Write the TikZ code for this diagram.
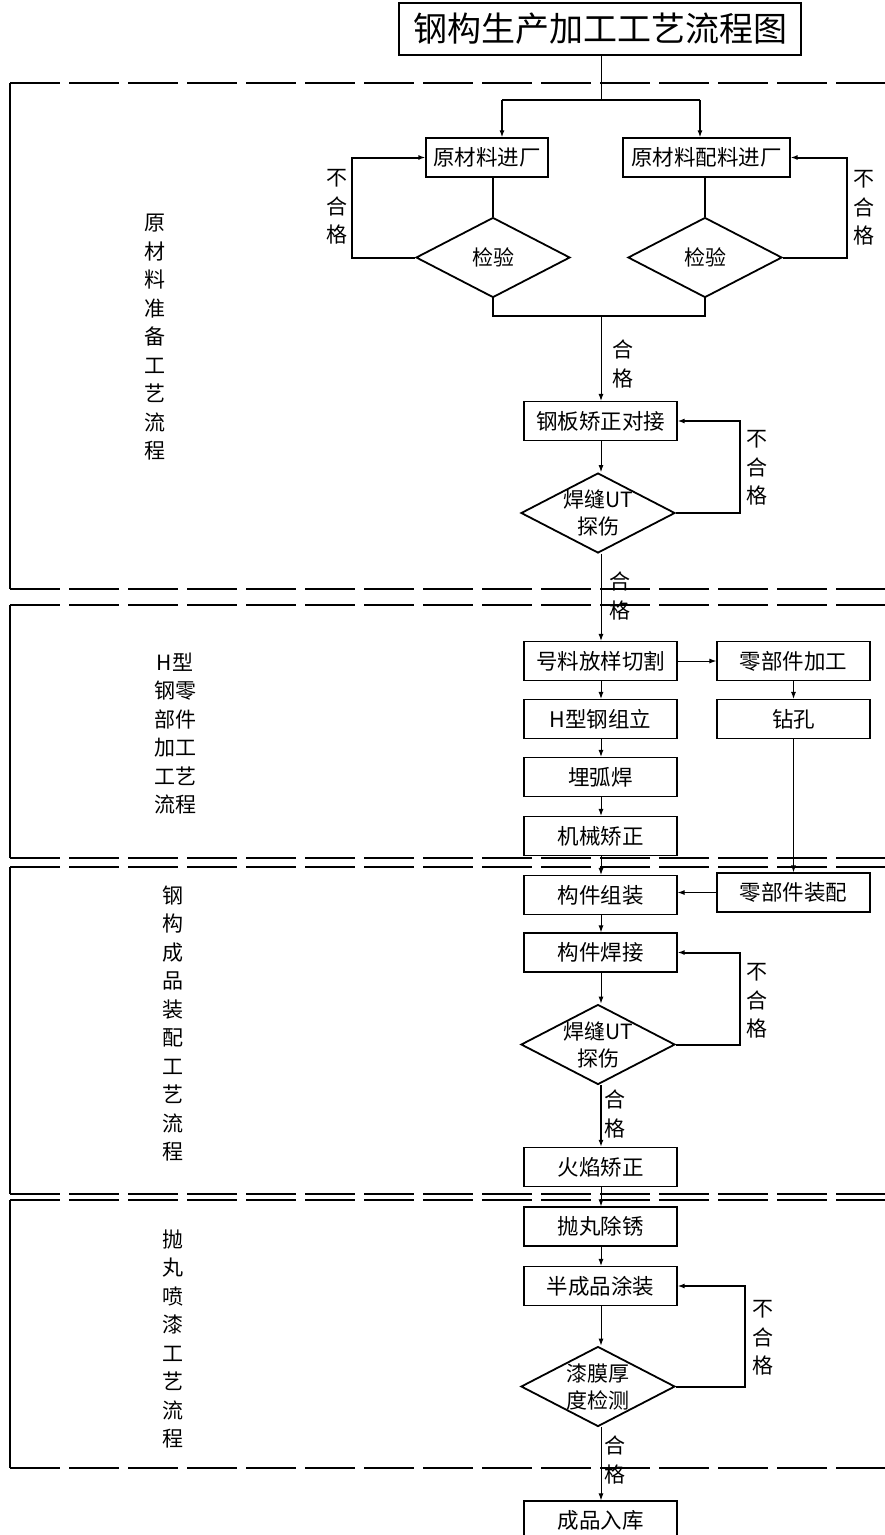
\documentclass[tikz,border=0pt]{standalone}
\usepackage{fontspec}
\setmainfont{Noto Sans CJK SC}
\usetikzlibrary{shapes.geometric,arrows.meta}
\begin{document}
\begin{tikzpicture}[x=1pt,y=-1pt,
  box/.style={draw,line width=1.2pt,minimum width=153pt,minimum height=39pt,inner sep=0pt,font=\fontsize{21.5}{24}\selectfont},
  dia/.style={draw,line width=1.8pt,shape=diamond,aspect=1.9,minimum width=154pt,minimum height=80pt,inner sep=-4pt,align=center,font=\fontsize{21}{27}\selectfont},
  arr/.style={-{Latex[length=7pt,width=5pt]},line width=1pt},
  lp/.style={-{Latex[length=7pt,width=5pt]},line width=2pt},
  thk/.style={line width=2pt},
  lab/.style={align=center,inner sep=0pt,font=\fontsize{21}{28.5}\selectfont},
  sec/.style={line width=2pt,dash pattern=on 50pt off 9pt},
  edge/.style={line width=2pt},
]
\useasboundingbox (0,0) rectangle (885,1535);

% section frames
\foreach \t/\b in {83/589, 605/858, 867/1194, 1200/1468}{
  \draw[edge] (10,\t) -- (10,\b);
  \draw[sec] (10,\t) -- (885,\t);
  \draw[sec] (10,\b) -- (885,\b);
}

% section labels
\node[lab] (s1) at (155,337.5) {原\\材\\料\\准\\备\\工\\艺\\流\\程};
\node[lab] (s2) at (175,733.5) {H型\\钢零\\部件\\加工\\工艺\\流程};
\node[lab] (s3) at (173,1023.5) {钢\\构\\成\\品\\装\\配\\工\\艺\\流\\程};
\node[lab] (s4) at (173,1339) {抛\\丸\\喷\\漆\\工\\艺\\流\\程};

% title
\node[draw,line width=1.2pt,minimum width=402pt,minimum height=52pt,inner sep=0pt,font=\fontsize{34}{38}\selectfont] (title) at (600,29) {钢构生产加工工艺流程图};

% raw material
\node[box,minimum width=122pt] (b1) at (487,157.5) {原材料进厂};
\node[box,minimum width=167pt] (b2) at (706.5,157.5) {原材料配料进厂};
\node[dia] (d1) at (493,257.5) {检验};
\node[dia] (d2) at (705,257.5) {检验};

\coordinate (j1) at (601,100);
\coordinate (t1) at (502,100);
\coordinate (t2) at (700,100);
\draw[line width=1pt] (title.south -| j1) -- (j1);
\draw[thk] (t1) -- (t2);
\draw[lp] (t1) -- (t1 |- b1.north);
\draw[lp] (t2) -- (t2 |- b2.north);
\draw[line width=1.6pt] (d1.north |- b1.south) -- (d1.north);
\draw[line width=1.6pt] (d2.north |- b2.south) -- (d2.north);
\draw[lp] (d1.west) -- ++(-63,0) |- (b1.west);
\draw[lp] (d2.east) -- ++(64,0) |- (b2.east);
\node[lab] (n1) at (337,207) {不\\合\\格};
\node[lab] (n2) at (864,208) {不\\合\\格};

\coordinate (j2) at (601,316);
\draw[thk] (d1.south) -- (d1.south |- j2) -- (d2.south |- j2) -- (d2.south);

\node[box] (b3) at (600.5,421) {钢板矫正对接};
\node[dia] (d3) at (598,513) {焊缝UT\\探伤};
\draw[arr] (j2) -- (j2 |- b3.north);
\node[lab] (h1) at (623,364) {合\\格};
\draw[arr] (b3.south -| j1) -- (j1 |- d3.north);
\draw[lp] (d3.east) -- ++(64,0) |- (b3.east);
\node[lab] (n3) at (757,468) {不\\合\\格};

% H beam
\node[box] (c1) at (600.5,661) {号料放样切割};
\node[box] (c2) at (600.5,719) {H型钢组立};
\node[box] (c3) at (600.5,777) {埋弧焊};
\node[box] (c4) at (600.5,836) {机械矫正};
\node[box] (r1) at (793.5,661) {零部件加工};
\node[box] (r2) at (793.5,719) {钻孔};
\node[box] (r3) at (793.5,892.5) {零部件装配};

\draw[arr] (j1 |- d3.south) -- (j1 |- c1.north);
\node[lab] (h2) at (620,596) {合\\格};
\draw[arr] (c1.east) -- (r1.west);
\draw[arr] (c1.south -| j1) -- (j1 |- c2.north);
\draw[arr] (c2.south -| j1) -- (j1 |- c3.north);
\draw[arr] (c3.south -| j1) -- (j1 |- c4.north);
\draw[arr] (r1.south) -- (r2.north);
\draw[arr] (r2.south) -- (r3.north);

% assembly
\node[box] (e1) at (600.5,895) {构件组装};
\node[box] (e2) at (600.5,952.5) {构件焊接};
\node[dia] (d4) at (598,1044.5) {焊缝UT\\探伤};
\node[box] (e3) at (600.5,1167) {火焰矫正};

\draw[arr] (c4.south -| j1) -- (j1 |- e1.north);
\draw[arr] (r3.west) -- (r3.west -| e1.east);
\draw[arr] (e1.south -| j1) -- (j1 |- e2.north);
\draw[arr] (e2.south -| j1) -- (j1 |- d4.north);
\draw[lp] (d4.east) -- ++(64,0) |- (e2.east);
\node[lab] (n4) at (757,1001) {不\\合\\格};
\draw[arr,line width=1.6pt] (j1 |- d4.south) -- (j1 |- e3.north);
\node[lab] (h3) at (615,1114) {合\\格};

% painting
\node[box] (f1) at (600.5,1226.5) {抛丸除锈};
\node[box] (f2) at (600.5,1286) {半成品涂装};
\node[dia] (d5) at (598,1386.5) {漆膜厚\\度检测};
\node[box] (f3) at (600.5,1520.5) {成品入库};

\draw[arr] (e3.south -| j1) -- (j1 |- f1.north);
\draw[arr] (f1.south -| j1) -- (j1 |- f2.north);
\draw[arr] (f2.south -| j1) -- (j1 |- d5.north);
\draw[lp] (d5.east) -- ++(69,0) |- (f2.east);
\node[lab] (n5) at (763,1338) {不\\合\\格};
\draw[arr] (j1 |- d5.south) -- (j1 |- f3.north);
\node[lab] (h4) at (615,1460) {合\\格};
\end{tikzpicture}
\end{document}
